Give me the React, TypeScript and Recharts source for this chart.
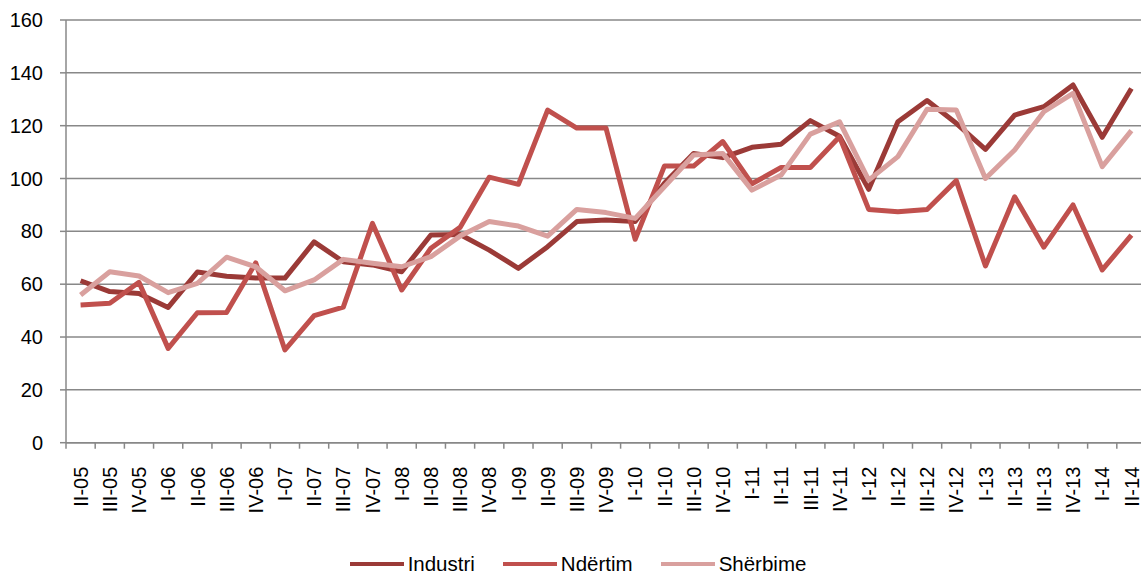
import { LineChart, Line, XAxis, YAxis, CartesianGrid, Legend } from "recharts";

const quarters = [
  "II-05", "III-05", "IV-05", "I-06", "II-06", "III-06", "IV-06", "I-07", "II-07", "III-07",
  "IV-07", "I-08", "II-08", "III-08", "IV-08", "I-09", "II-09", "III-09", "IV-09", "I-10",
  "II-10", "III-10", "IV-10", "I-11", "II-11", "III-11", "IV-11", "I-12", "II-12", "III-12",
  "IV-12", "I-13", "II-13", "III-13", "IV-13", "I-14", "II-14",
];

const industri = [
  61.3, 57.2, 56.5, 51.2, 64.6, 63, 62.3, 62.3, 76, 68.5,
  67.3, 64.7, 78.6, 78.8, 72.9, 66, 74.2, 83.7, 84.3, 83.7,
  98.2, 109.5, 107.9, 111.8, 113, 121.9, 116, 95.9, 121.5, 129.5,
  120.9, 111, 124, 127.2, 135.4, 115.6, 134.1,
];

const ndertim = [
  52.1, 52.8, 60.7, 35.7, 49.2, 49.3, 68.1, 35.1, 48.1, 51.3,
  83, 57.8, 73.6, 81.5, 100.5, 97.8, 125.9, 119.1, 119.1, 77,
  104.7, 104.7, 114, 98, 104.2, 104.2, 115.8, 88.3, 87.4, 88.3,
  99.2, 66.9, 93.1, 74, 90, 65.4, 78.6,
];

const sherbime = [
  55.9, 64.7, 63.1, 56.8, 60.3, 70.2, 66.6, 57.5, 61.6, 69.4,
  67.9, 66.6, 70.4, 78.2, 83.7, 82, 78.2, 88.3, 87.1, 84.9,
  96.9, 108.9, 109.5, 95.6, 101.3, 116.8, 121.5, 99.4, 108.3, 126.2,
  125.9, 100, 110.8, 125.3, 132.2, 104.5, 118.1,
];

const yTicks = [0, 20, 40, 60, 80, 100, 120, 140, 160];

const series = [
  { key: "industri", name: "Industri", color: "#9B3A37" },
  { key: "ndertim", name: "Ndërtim", color: "#C0504D" },
  { key: "sherbime", name: "Shërbime", color: "#D9A09E" },
];

const data = quarters.map((q, i) => ({
  q,
  industri: industri[i],
  ndertim: ndertim[i],
  sherbime: sherbime[i],
}));

const FONT = "'Liberation Sans', Arial, sans-serif";
const GRID = "#888888";
const CHART_W = 1146;
const Y_W = 66;
const BAND = (CHART_W - Y_W) / quarters.length;

const QuarterTick = (props: any) => {
  const { x, y, payload, index } = props;
  const ty = y + 24;
  return (
    <g>
      <line x1={x + BAND / 2} y1={y} x2={x + BAND / 2} y2={y + 6} stroke={GRID} strokeWidth={1.5} />
      {index === 0 && (
        <line x1={x - BAND / 2} y1={y} x2={x - BAND / 2} y2={y + 6} stroke={GRID} strokeWidth={1.5} />
      )}
      <text
        x={x}
        y={ty}
        dy="0.36em"
        transform={`rotate(-90 ${x} ${ty})`}
        textAnchor="end"
        fontSize={20}
        fontFamily={FONT}
        fill="#000"
      >
        {payload.value}
      </text>
    </g>
  );
};

const renderLegend = () => (
  <div
    style={{
      display: "flex",
      justifyContent: "center",
      alignItems: "center",
      gap: 28,
      height: 28,
      paddingLeft: 10,
      fontFamily: FONT,
      fontSize: 20.5,
      color: "#000",
    }}
  >
    {series.map((s) => (
      <div key={s.key} style={{ display: "flex", alignItems: "center" }}>
        <span style={{ display: "inline-block", width: 54, height: 4, background: s.color }} />
        <span style={{ marginLeft: 4 }}>{s.name}</span>
      </div>
    ))}
  </div>
);

export default function App() {
  return (
    <div style={{ position: "absolute", left: 0, top: 0, width: 1141, height: 578, overflow: "hidden", background: "#fff" }}>
      <LineChart width={CHART_W} height={578} data={data} margin={{ top: 20, right: 0, left: 0, bottom: 0 }}>
        <CartesianGrid vertical={false} stroke={GRID} strokeWidth={1.5} />
        <XAxis
          dataKey="q"
          scale="band"
          interval={0}
          height={107.3}
          tickLine={false}
          tickSize={0}
          tickMargin={0}
          axisLine={{ stroke: GRID, strokeWidth: 1.5 }}
          tick={<QuarterTick />}
        />
        <YAxis
          width={Y_W}
          domain={[0, 160]}
          ticks={yTicks}
          interval={0}
          tickSize={6}
          tickMargin={17}
          axisLine={{ stroke: GRID, strokeWidth: 1.5 }}
          tickLine={{ stroke: GRID, strokeWidth: 1.5 }}
          tick={{ fontSize: 20, fontFamily: FONT, fill: "#000" }}
        />
        <Legend verticalAlign="bottom" content={renderLegend} />
        {series.map((s) => (
          <Line
            key={s.key}
            dataKey={s.key}
            name={s.name}
            stroke={s.color}
            strokeWidth={5}
            strokeLinejoin="round"
            dot={false}
            activeDot={false}
            isAnimationActive={false}
          />
        ))}
      </LineChart>
    </div>
  );
}
